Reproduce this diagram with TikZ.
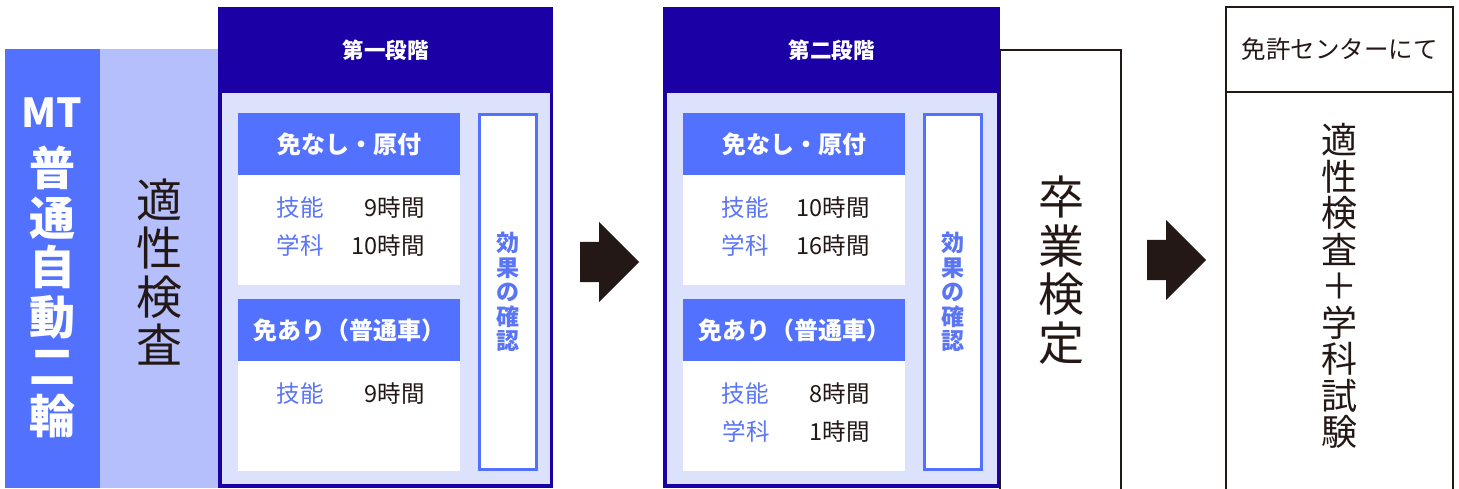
\documentclass[tikz,border=0pt]{standalone}
\usepackage{fontspec}
\setmainfont{Noto Sans CJK JP}
\usetikzlibrary{positioning, shapes.arrows}

\definecolor{navy}{HTML}{1B00A6}
\definecolor{midblue}{HTML}{5271FF}
\definecolor{paleblue}{HTML}{B5BFFC}
\definecolor{mistblue}{HTML}{DCE1FC}
\definecolor{inkblack}{HTML}{231815}
\definecolor{textblue}{HTML}{5A75F6}

\tikzset{
  box/.style={rectangle, inner sep=0pt, outer sep=0pt, anchor=north west},
  title/.style={inner sep=0pt, text=white, font=\bfseries\fontsize{21.5}{23}\selectfont},
  tag/.style={box, fill=midblue, text=white, minimum width=222pt, minimum height=62pt, font=\bfseries\fontsize{24}{26}\selectfont},
  panel/.style={box, fill=white, minimum width=222pt},
  subject/.style={inner sep=0pt, text=textblue, font=\fontsize{23.5}{25}\selectfont},
  hours/.style={inner sep=0pt, anchor=east, text=inkblack, font=\fontsize{23.5}{25}\selectfont},
  check/.style={box, fill=white, draw=midblue, line width=3pt, minimum width=57pt, minimum height=355pt},
  vtext/.style={inner sep=0pt, align=center},
  blockarrow/.style={single arrow, fill=inkblack, inner xsep=0pt, inner ysep=20pt, anchor=tail,
    single arrow head extend=20pt, minimum height=59pt, shape border rotate=0}
}

\begin{document}
\begin{tikzpicture}[x=1pt, y=-1pt]
  \useasboundingbox (0,0) rectangle (1459,488);

  % Course column
  \begin{scope}
    \node (course) at (5,49) [box, fill=midblue, minimum width=95pt, minimum height=439pt] {};
    \node (course_mt) at (52,113) [inner sep=0pt, text=white, font=\bfseries\fontsize{40}{42}\selectfont] {MT};
    \node (course_name) at (52,292) [vtext, text=white, font=\bfseries\fontsize{46}{49.5}\selectfont] {普\\通\\自\\動\\二\\輪};

    \node (aptitude) at (100,49) [box, fill=paleblue, minimum width=118pt, minimum height=439pt] {};
    \node (aptitude_text) at (159,272) [vtext, text=inkblack, font=\fontsize{46}{48.5}\selectfont] {適\\性\\検\\査};
  \end{scope}

  % Stage 1
  \begin{scope}
    \node (stage1) at (218,7) [box, fill=navy, minimum width=335pt, minimum height=481pt] {};
    \node (stage1_in) at (222,93) [box, fill=mistblue, minimum width=328pt, minimum height=391pt] {};
    \node (stage1_title) at (385.5,50) [title] {第一段階};

    \node (s1_tag_a) at (238,113) [tag] {免なし・原付};
    \node (s1_body_a) at (238,175) [panel, minimum height=110pt] {};
    \node (s1_skill_a) at (300,208) [subject] {技能};
    \node (s1_skill_a_h) at (425,208) [hours] {9時間};
    \node (s1_study_a) at (300,246) [subject] {学科};
    \node (s1_study_a_h) at (425,246) [hours] {10時間};

    \node (s1_tag_b) at (238,299) [tag] {免あり（普通車）};
    \node (s1_body_b) at (238,361) [panel, minimum height=110pt] {};
    \node (s1_skill_b) at (300,394) [subject] {技能};
    \node (s1_skill_b_h) at (425,394) [hours] {9時間};

    \node (s1_check) at (479.5,114.5) [check] {};
    \node (s1_check_text) at (s1_check.center) [vtext, text=textblue, font=\bfseries\fontsize{23}{24.6}\selectfont] {効\\果\\の\\確\\認};
  \end{scope}

  \node (arrow1) at (580,262) [blockarrow] {};

  % Graduation test
  \node (grad) at (1000,50) [box, draw=inkblack, line width=1.5pt, fill=white, minimum width=121pt, minimum height=440pt] {};
  \node (grad_text) at (1061,270) [vtext, text=inkblack, font=\fontsize{46}{48.5}\selectfont] {卒\\業\\検\\定};

  % Stage 2
  \begin{scope}
    \node (stage2) at (663,7) [box, fill=navy, minimum width=337pt, minimum height=481pt] {};
    \node (stage2_in) at (667,93) [box, fill=mistblue, minimum width=330pt, minimum height=391pt] {};
    \node (stage2_title) at (831.5,50) [title] {第二段階};

    \node (s2_tag_a) at (683,113) [tag] {免なし・原付};
    \node (s2_body_a) at (683,175) [panel, minimum height=110pt] {};
    \node (s2_skill_a) at (745,208) [subject] {技能};
    \node (s2_skill_a_h) at (870,208) [hours] {10時間};
    \node (s2_study_a) at (745,246) [subject] {学科};
    \node (s2_study_a_h) at (870,246) [hours] {16時間};

    \node (s2_tag_b) at (683,299) [tag] {免あり（普通車）};
    \node (s2_body_b) at (683,361) [panel, minimum height=110pt] {};
    \node (s2_skill_b) at (745,394) [subject] {技能};
    \node (s2_skill_b_h) at (870,394) [hours] {8時間};
    \node (s2_study_b) at (746,432) [subject] {学科};
    \node (s2_study_b_h) at (870,432) [hours] {1時間};

    \node (s2_check) at (924.5,114.5) [check] {};
    \node (s2_check_text) at (s2_check.center) [vtext, text=textblue, font=\bfseries\fontsize{23}{24.6}\selectfont] {効\\果\\の\\確\\認};
  \end{scope}

  \node (arrow2) at (1147,260) [blockarrow] {};

  % License center
  \begin{scope}
    \node (center) at (1226,7) [box, draw=inkblack, line width=1.5pt, minimum width=227pt, minimum height=485pt] {};
    \node (center_head) at (1226,7) [box, draw=inkblack, line width=1.5pt, minimum width=227pt, minimum height=85pt] {};
    \node (center_title) at (center_head.center) [inner sep=0pt, text=inkblack, font=\fontsize{24.5}{26}\selectfont] {免許センターにて};
    \node (center_text) at (1339,286) [vtext, text=inkblack, font=\fontsize{36}{36.5}\selectfont] {適\\性\\検\\査\\＋\\学\\科\\試\\験};
  \end{scope}
\end{tikzpicture}
\end{document}
